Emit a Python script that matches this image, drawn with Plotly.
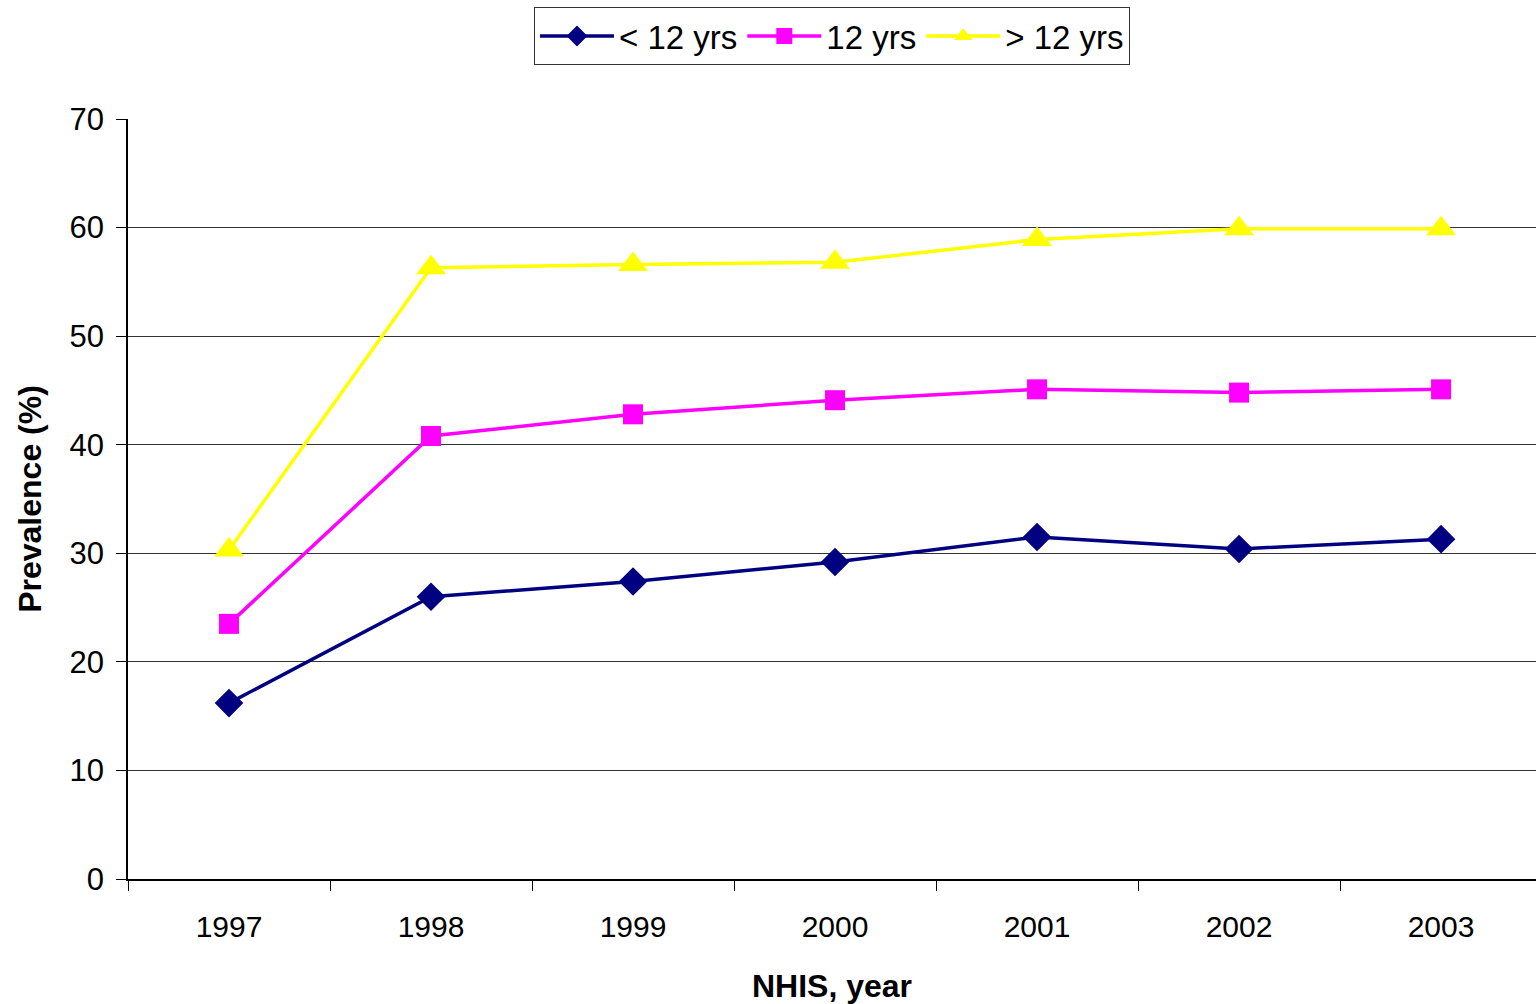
import plotly.graph_objects as go

# NHIS survey years and prevalence (%) by education level
years = ["1997", "1998", "1999", "2000", "2001", "2002", "2003"]
lt12 = [16.2, 26.0, 27.4, 29.2, 31.5, 30.4, 31.3]
eq12 = [23.5, 40.8, 42.8, 44.1, 45.1, 44.8, 45.1]
gt12 = [30.3, 56.3, 56.6, 56.8, 58.9, 59.9, 59.9]
series_names = ["< 12 yrs", "12 yrs", "> 12 yrs"]
y_ticks = [0, 10, 20, 30, 40, 50, 60, 70]

FONT = "Liberation Sans, Arial, sans-serif"

fig = go.Figure()
styles = [
    ("#000080", "diamond", 22),
    ("#FF00FF", "square", 20),
    ("#FFFF00", "triangle-up", 26),
]
for name, vals, (color, sym, size) in zip(series_names, [lt12, eq12, gt12], styles):
    fig.add_trace(go.Scatter(
        x=years, y=vals, name=name, mode="lines+markers",
        line=dict(color=color, width=3.5),
        marker=dict(symbol=sym, size=size, color=color, line=dict(width=0)),
    ))

fig.update_layout(
    width=1536, height=1004,
    margin=dict(l=128, r=0, t=119, b=125),
    paper_bgcolor="white", plot_bgcolor="white",
    font=dict(family=FONT, size=30, color="black"),
    showlegend=True,
    legend=dict(
        orientation="h", x=0.5, xanchor="center", y=0.993, yanchor="top",
        yref="container",
        bordercolor="#333333", borderwidth=1, bgcolor="white",
        font=dict(size=33), itemwidth=74, tracegroupgap=0,
    ),
    xaxis=dict(
        type="category", range=[-0.5, 6.47],
        tickson="boundaries", ticks="outside", ticklen=10, tickcolor="black",
        showline=True, linecolor="black", linewidth=1.5,
        showgrid=False, zeroline=False,
        tickfont=dict(size=30), ticklabelstandoff=20,
        title=dict(text="<b>NHIS, year</b>", font=dict(size=32), standoff=36),
    ),
    yaxis=dict(
        range=[0, 70], tickvals=y_ticks,
        ticks="outside", ticklen=10, tickcolor="black",
        showline=True, linecolor="black", linewidth=1.5,
        showgrid=True, gridcolor="#333333", gridwidth=1,
        zeroline=False,
        tickfont=dict(size=31), ticklabelstandoff=6,
        title=dict(text="<b>Prevalence (%)</b>", font=dict(size=32), standoff=18),
    ),
)

fig.write_html("out.html")
